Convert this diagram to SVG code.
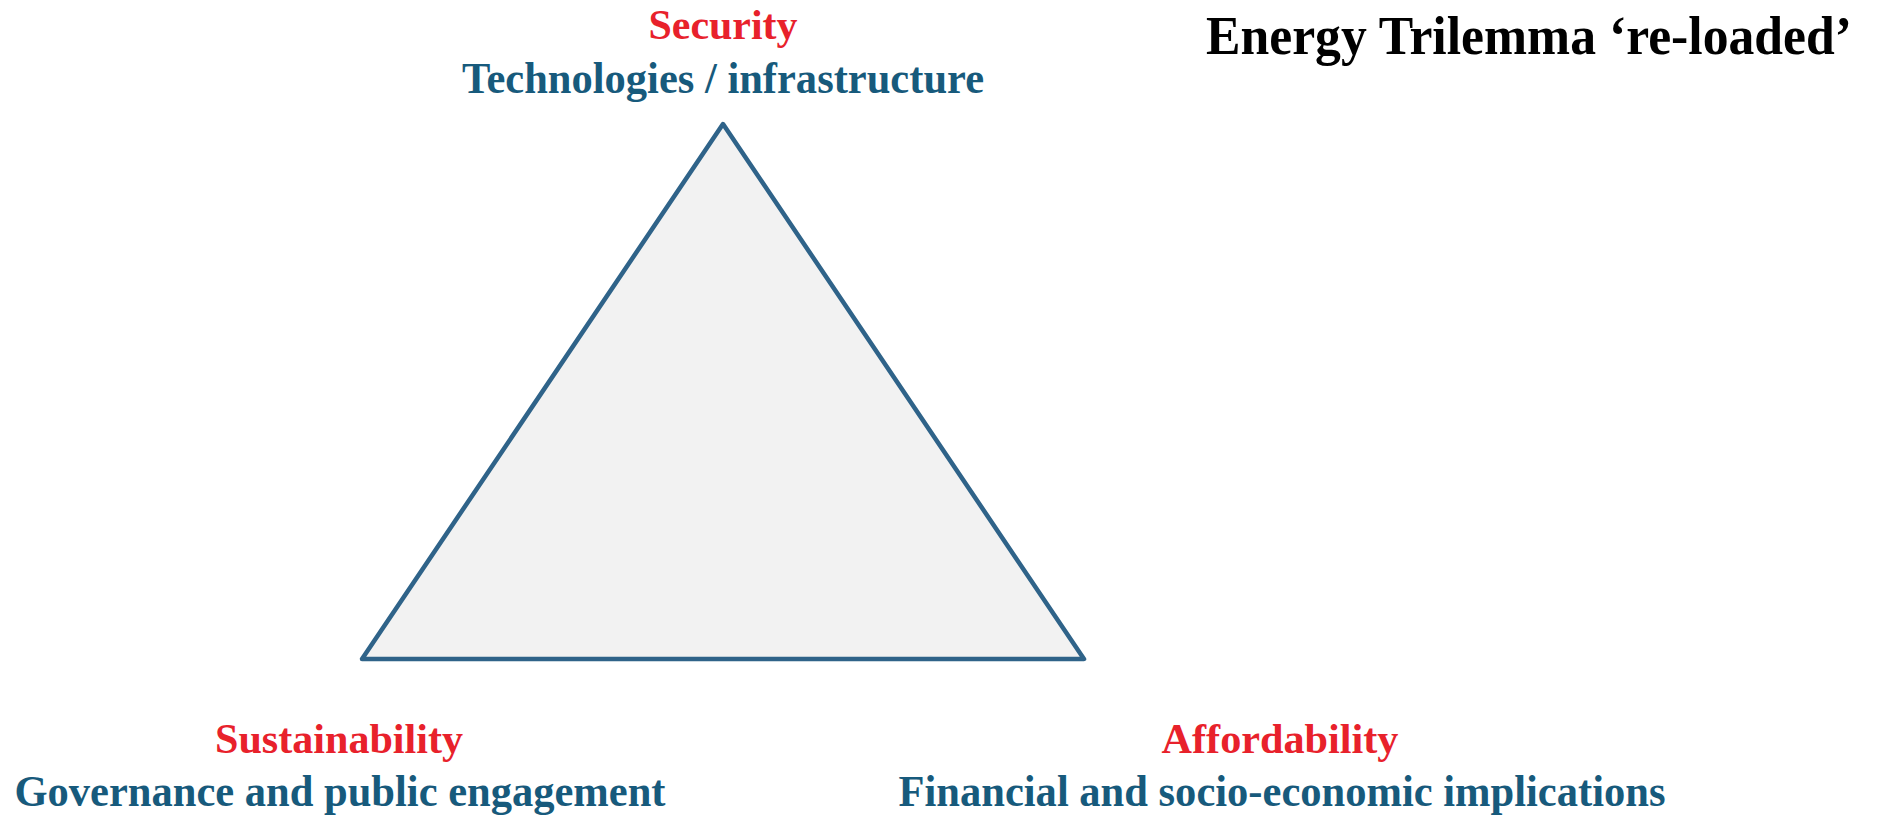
<svg xmlns="http://www.w3.org/2000/svg" width="1886" height="817" viewBox="0 0 1886 817">
  <style>
    text { font-family: "Liberation Serif", "Times New Roman", serif; font-weight: bold; text-anchor: middle; }
    .head { fill: #e8212b; font-size: 43px; }
    .sub { fill: #175a7c; font-size: 45px; }
    .title { fill: #000000; font-size: 54px; }
    .tri { fill: #f2f2f2; stroke: #2f6389; stroke-width: 4.5; stroke-linejoin: round; }
  </style>
  <rect width="1886" height="817" fill="#ffffff"/>

  <g id="title">
    <text class="title" x="1529" y="54" textLength="646" lengthAdjust="spacingAndGlyphs">Energy Trilemma ‘re-loaded’</text>
  </g>

  <g id="connectors">
    <polygon class="tri" points="723,124 1084,659 362,659"/>
  </g>

  <g id="security">
    <text class="head" x="723" y="39" textLength="149" lengthAdjust="spacingAndGlyphs">Security</text>
    <text class="sub" x="723" y="93" textLength="522" lengthAdjust="spacingAndGlyphs">Technologies / infrastructure</text>
  </g>

  <g id="sustainability">
    <text class="head" x="339" y="753" textLength="248" lengthAdjust="spacingAndGlyphs">Sustainability</text>
    <text class="sub" x="340" y="806" textLength="651" lengthAdjust="spacingAndGlyphs">Governance and public engagement</text>
  </g>

  <g id="affordability">
    <text class="head" x="1280" y="753" textLength="237" lengthAdjust="spacingAndGlyphs">Affordability</text>
    <text class="sub" x="1282" y="806" textLength="767" lengthAdjust="spacingAndGlyphs">Financial and socio-economic implications</text>
  </g>
</svg>
